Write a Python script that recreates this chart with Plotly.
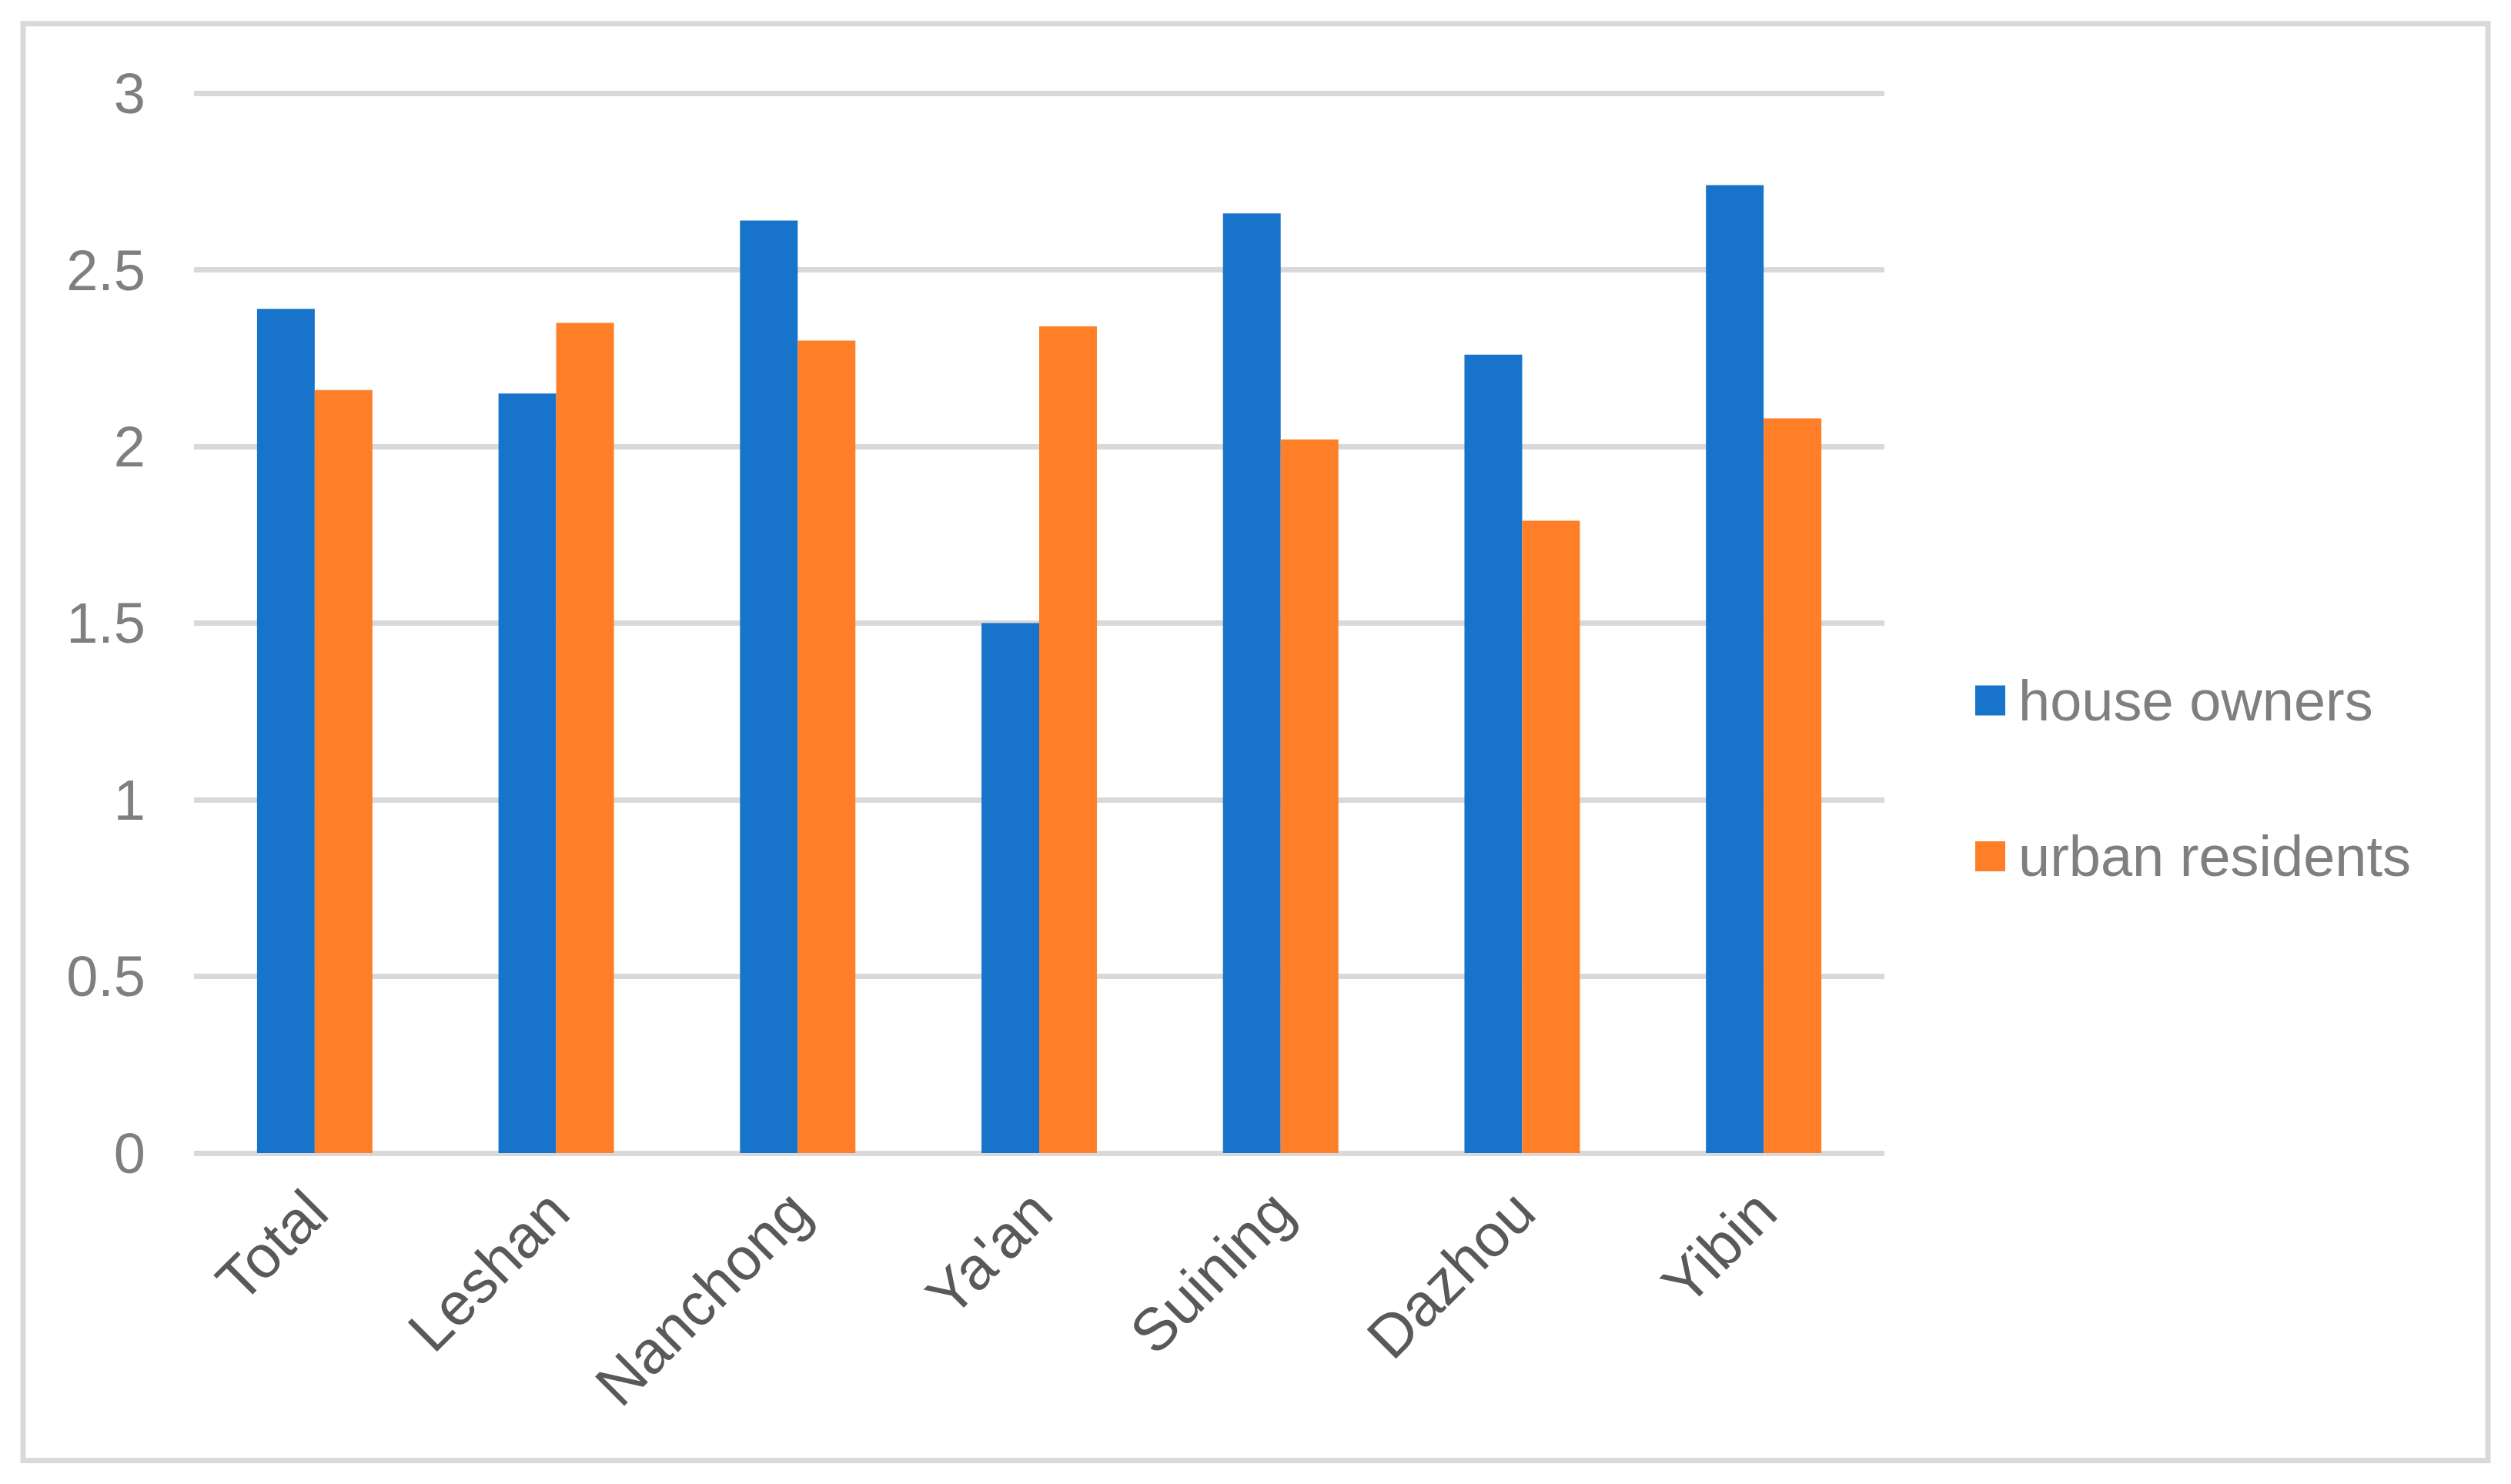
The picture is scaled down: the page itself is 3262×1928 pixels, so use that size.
import plotly.graph_objects as go

# ---- data ----
categories = ["Total", "Leshan", "Nanchong", "Ya'an", "Suining", "Dazhou", "Yibin"]
house_owners = [2.39, 2.15, 2.64, 1.50, 2.66, 2.26, 2.74]
urban_residents = [2.16, 2.35, 2.30, 2.34, 2.02, 1.79, 2.08]
series_names = ["house owners", "urban residents"]
y_ticks = [0, 0.5, 1, 1.5, 2, 2.5, 3]
y_tick_labels = ["0", "0.5", "1", "1.5", "2", "2.5", "3"]

# ---- style / layout (page pixels; the html body has an 8px margin) ----
OFF = 8
W, H = 3262 - OFF, 1928 - OFF
Y_MAX = 3.02
L, R = 252 - OFF, 2448 - OFF
Y3, Y0 = 121.5 - OFF, 1498.5 - OFF
T = Y0 - (Y0 - Y3) * Y_MAX / 3.0
B = Y0
colors = ["#1874CA", "#FE7F27"]
FONT = "Liberation Sans, Arial, sans-serif"
GRID = "#D9D9D9"


def px_x(x):
    return (x - OFF - L) / (R - L)


def px_y(y):
    return (B - (y - OFF)) / (B - T)


fig = go.Figure()
for name, vals, c in zip(series_names, [house_owners, urban_residents], colors):
    fig.add_trace(go.Bar(x=categories, y=vals, name=name, marker=dict(color=c, line=dict(width=0)),
                         showlegend=False))

fig.update_layout(
    width=W, height=H,
    margin=dict(l=L, r=W - R, t=T, b=H - B, pad=0),
    paper_bgcolor="white", plot_bgcolor="white",
    barmode="group", bargap=0.522, bargroupgap=0,
    font=dict(family=FONT, size=74, color="#7F7F7F"),
    showlegend=False,
)
fig.update_xaxes(
    type="category", tickangle=-45, showgrid=False, showline=False, zeroline=False,
    tickfont=dict(family=FONT, size=78, color="#595959"), ticks="", ticklabelstandoff=14,
    ticklabelshift=-6,
)
fig.update_yaxes(
    range=[0, Y_MAX], tickvals=y_ticks, ticktext=y_tick_labels, showgrid=True, gridcolor=GRID, gridwidth=7,
    zeroline=True, zerolinecolor=GRID, zerolinewidth=7, showline=False, ticks="",
    tickfont=dict(family=FONT, size=74, color="#7F7F7F"), ticklabelstandoff=62,
)

# outer chart border
fig.add_shape(type="rect", xref="paper", yref="paper",
              x0=px_x(30), x1=px_x(3232), y0=px_y(1898), y1=px_y(31),
              line=dict(color=GRID, width=7), fillcolor="rgba(0,0,0,0)", layer="below")

# legend (drawn from series names / colors)
legend_y = [910.5, 1113]
for name, c, yc in zip(series_names, colors, legend_y):
    fig.add_shape(type="rect", xref="paper", yref="paper",
                  x0=px_x(2566), x1=px_x(2605), y0=px_y(yc + 19.5), y1=px_y(yc - 19.5),
                  line=dict(width=0), fillcolor=c)
    fig.add_annotation(xref="paper", yref="paper", x=px_x(2620), y=px_y(yc), text=name,
                       showarrow=False, xanchor="left", yanchor="middle",
                       font=dict(family=FONT, size=74, color="#7F7F7F"))

fig.write_html("out.html")
